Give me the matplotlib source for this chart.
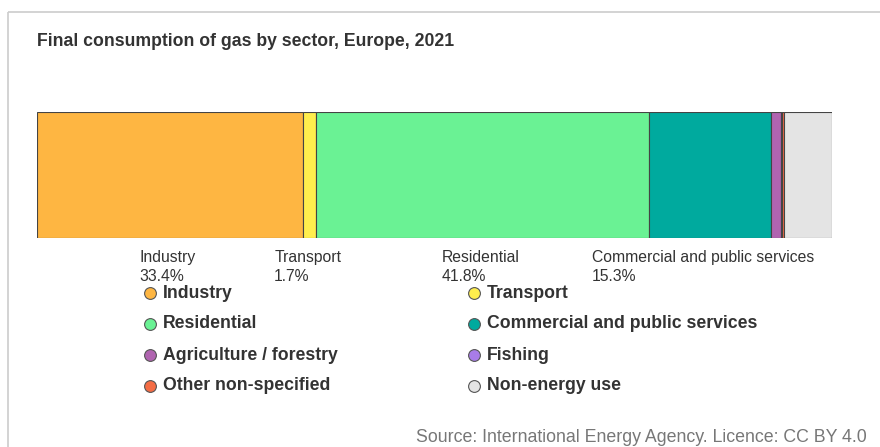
import numpy as np
import matplotlib
matplotlib.use("Agg")
import matplotlib.pyplot as plt

plt.rcParams['font.family'] = ['Liberation Sans', 'DejaVu Sans']

# share of final gas consumption, %
sectors = ["Industry", "Transport", "Residential", "Commercial and public services",
           "Agriculture / forestry", "Fishing", "Other non-specified", "Non-energy use"]
shares = [33.4, 1.7, 41.8, 15.3, 1.3, 0.05, 0.3, 6.0]
colors = ["#FEB642", "#FFEE4D", "#6AF294", "#00AA9E",
          "#B064B0", "#A87CE8", "#F46C44", "#E4E4E4"]
# segments that get a name/percentage label under the bar
labelled = ["Industry", "Transport", "Residential", "Commercial and public services"]

W, H = 880, 447
fig = plt.figure(figsize=(W / 100, H / 100), dpi=100)

# background overlay in pixel coordinates (frame, legend)
lax = fig.add_axes([0, 0, 1, 1])
lax.set_xlim(0, W)
lax.set_ylim(H, 0)
lax.axis("off")
lax.plot([7.5, W], [11.5, 11.5], color="#cccccc", lw=1.2, solid_capstyle="butt")
lax.plot([7.5, 7.5], [11.5, H], color="#cccccc", lw=1.2, solid_capstyle="butt")

# stacked 100% bar
ax = fig.add_axes([37 / W, 1 - 238 / H, 795 / W, 126 / H])
lefts = np.concatenate([[0], np.cumsum(shares)[:-1]])
ax.barh(0, shares, left=lefts, height=1, color=colors,
        edgecolor="#444444", linewidth=0.8)
ax.set_xlim(0, sum(shares))
ax.set_ylim(-0.5, 0.5)
ax.axis("off")

labels = []
for name, share, left in zip(sectors, shares, lefts):
    if name not in labelled:
        continue
    t = ax.annotate(f"{name}\n{share:.1f}%", xy=(left + share / 2, -0.5),
                    xytext=(-2, -12), textcoords="offset pixels",
                    ha="center", va="top", multialignment="left",
                    fontsize=11.3, color="#333333", linespacing=1.35,
                    annotation_clip=False)
    labels.append(t)

# keep labels from running past the right side
fig.canvas.draw()
right_limit = 814
for t in labels:
    bb = t.get_window_extent()
    if bb.x1 > right_limit:
        dx, dy = t.xyann
        t.xyann = (dx - (bb.x1 - right_limit), dy)

# legend, two columns
for i, (name, color) in enumerate(zip(sectors, colors)):
    row, col = divmod(i, 2)
    x = 150 + col * 324
    y = 293 + row * 31
    lax.scatter(x, y, s=72, color=color, edgecolors="#555555", linewidths=0.8, zorder=3)
    lax.text(x + 13, y, name, ha="left", va="center", fontsize=12.7,
             fontweight="bold", color="#333333")

fig.text(37 / W, 1 - 41 / H, "Final consumption of gas by sector, Europe, 2021",
         ha="left", va="center", fontsize=12.7, fontweight="bold", color="#333333")
fig.text(867 / W, 1 - 438 / H, "Source: International Energy Agency. Licence: CC BY 4.0",
         ha="right", va="center", fontsize=12.8, color="#777777")

fig.savefig("out.png", dpi=100)
